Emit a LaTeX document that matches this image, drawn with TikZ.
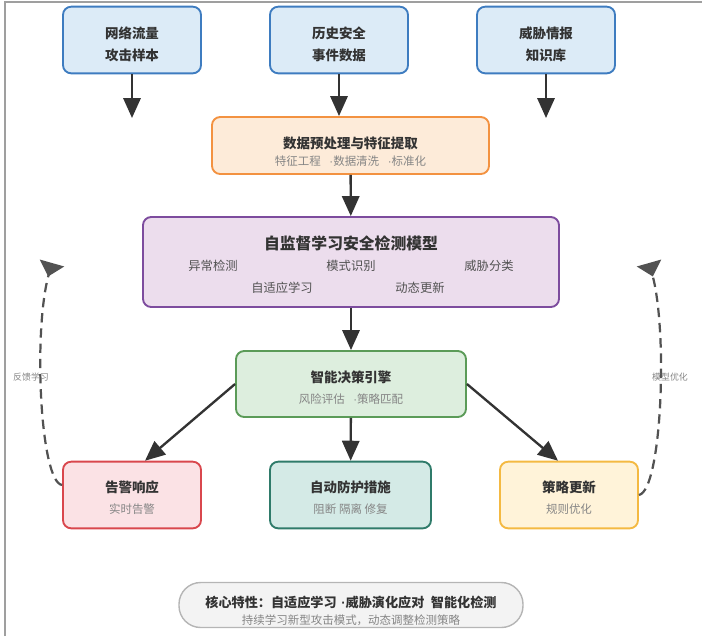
\documentclass[tikz,border=0pt]{standalone}
\usepackage{fontspec}
\setmainfont{Noto Sans CJK SC}
\newfontfamily\latn{Liberation Sans}
\newcommand{\dt}{\hspace{0.75em}{\latn\textperiodcentered}}
\usepackage{tikz}
\usetikzlibrary{arrows.meta}

\definecolor{blueE}{HTML}{3E7CC0}
\definecolor{blueF}{HTML}{DCEBF7}
\definecolor{orangeE}{HTML}{F39241}
\definecolor{orangeF}{HTML}{FDEBD9}
\definecolor{purpleE}{HTML}{7D4C9E}
\definecolor{purpleF}{HTML}{ECDDED}
\definecolor{greenE}{HTML}{5B9B58}
\definecolor{greenF}{HTML}{DDEEDE}
\definecolor{redE}{HTML}{D9474D}
\definecolor{redF}{HTML}{FBE2E5}
\definecolor{tealE}{HTML}{2F7B6A}
\definecolor{tealF}{HTML}{D4EAE6}
\definecolor{yellowE}{HTML}{F4B942}
\definecolor{yellowF}{HTML}{FFF3D9}
\definecolor{pillE}{HTML}{B5B5B5}
\definecolor{pillF}{HTML}{F3F3F3}
\definecolor{ink}{HTML}{333333}
\definecolor{mute}{HTML}{858585}

\begin{document}
\begin{tikzpicture}[x=0.03cm,y=-0.03cm,
	box/.style={draw,rounded corners=7pt,line width=1.6pt,minimum width=4.14cm,minimum height=2cm},
	ttl/.style={text=ink,font=\fontsize{11.5pt}{13pt}\selectfont\bfseries},
	big/.style={text=ink,font=\fontsize{13.5pt}{15pt}\selectfont\bfseries},
	sub/.style={text=mute,font=\fontsize{9.8pt}{11pt}\selectfont},
	item/.style={text=ink!85,font=\fontsize{10.5pt}{12pt}\selectfont},
	side/.style={text=mute,font=\fontsize{7.6pt}{9pt}\selectfont},
	arr/.style={draw=ink,line width=2pt,-{Triangle[length=0.6cm,width=0.52cm]}},
	fb/.style={draw=ink!85,line width=1.9pt,dash pattern=on 8pt off 5pt,-{Triangle[reversed,length=0.42cm,width=0.75cm]}}]
	\useasboundingbox (0,0) rectangle (702,636);
	\draw[gray!75,line width=1.2pt] (5,636) -- (5,2) -- (702,2);

	% data sources
	\node[box,draw=blueE,fill=blueF] (net) at (132,40) {};
	\node[ttl] (net1) at (132,33) {网络流量};
	\node[ttl] (net2) at (132,55) {攻击样本};
	\node[box,draw=blueE,fill=blueF] (hist) at (339,40) {};
	\node[ttl] (hist1) at (339,33) {历史安全};
	\node[ttl] (hist2) at (339,55) {事件数据};
	\node[box,draw=blueE,fill=blueF] (intel) at (546,40) {};
	\node[ttl] (intel1) at (546,33) {威胁情报};
	\node[ttl] (intel2) at (546,55) {知识库};

	% preprocessing
	\node[box,draw=orangeE,fill=orangeF,minimum width=8.31cm,minimum height=1.71cm] (prep) at (350.5,145.5) {};
	\node[ttl] (prep1) at (350.5,143) {数据预处理与特征提取};
	\node[sub] (prep2) at (350.5,161) {特征工程\dt{}数据清洗\dt{}标准化};

	% model
	\node[box,draw=purpleE,fill=purpleF,minimum width=12.48cm,minimum height=2.7cm] (model) at (351,262) {};
	\node[big] (model0) at (351,243) {自监督学习安全检测模型};
	\node[item] (anom) at (213,266) {异常检测};
	\node[item] (pat) at (351,266) {模式识别};
	\node[item] (cls) at (489,266) {威胁分类};
	\node[item] (adapt) at (282,288) {自适应学习};
	\node[item] (dyn) at (420,288) {动态更新};

	% decision engine
	\node[box,draw=greenE,fill=greenF,minimum width=6.9cm,minimum height=1.98cm] (engine) at (351,384) {};
	\node[ttl] (engine1) at (351,377) {智能决策引擎};
	\node[sub] (engine2) at (351,399) {风险评估\dt{}策略匹配};

	% responses
	\node[box,draw=redE,fill=redF] (alert) at (132,495) {};
	\node[ttl] (alert1) at (132,487) {告警响应};
	\node[sub] (alert2) at (132,509) {实时告警};
	\node[box,draw=tealE,fill=tealF,minimum width=4.83cm] (guard) at (350.5,495) {};
	\node[ttl] (guard1) at (350.5,487) {自动防护措施};
	\node[sub] (guard2) at (350.5,509) {阻断 隔离 修复};
	\node[box,draw=yellowE,fill=yellowF] (update) at (569,495) {};
	\node[ttl] (update1) at (569,487) {策略更新};
	\node[sub] (update2) at (569,509) {规则优化};

	% summary
	\node[draw=pillE,fill=pillF,line width=1.2pt,rounded corners=0.65cm,minimum width=10.32cm,minimum height=1.35cm] (core) at (351,605) {};
	\node[ttl,font=\fontsize{11.2pt}{13pt}\selectfont\bfseries] (core1) at (351,602) {核心特性：自适应学习\hspace{0.35em}{\latn\textperiodcentered}威胁演化应对\hspace{0.5em}智能化检测};
	\node[sub] (core2) at (351,620) {持续学习新型攻击模式，动态调整检测策略};

	% arrows
	\coordinate (netend) at (132,118);
	\coordinate (intelend) at (546,118);
	\draw[arr] (net) -- (netend);
	\draw[arr] (hist.south) -- (hist.south |- prep.north);
	\draw[arr] (intel) -- (intelend);
	\draw[arr] (prep) -- (model);
	\draw[arr] (model) -- (engine);
	\draw[arr] (engine.west) -- ([xshift=0.39cm]alert.north);
	\draw[arr] (engine) -- (guard);
	\draw[arr] (engine.east) -- ([xshift=-0.33cm]update.north);

	% feedback loops
	\coordinate (fbl) at (52,263);
	\coordinate (fbr) at (649,263);
	\draw[fb] ([yshift=0.3cm]alert.west) .. controls (40,482) and (33,330) .. (fbl);
	\draw[fb] (update.east) .. controls (662,490) and (668,330) .. (fbr);
	\node[side] (fbltxt) at (31,377) {反馈学习};
	\node[side] (fbrtxt) at (670,377) {模型优化};
\end{tikzpicture}
\end{document}
